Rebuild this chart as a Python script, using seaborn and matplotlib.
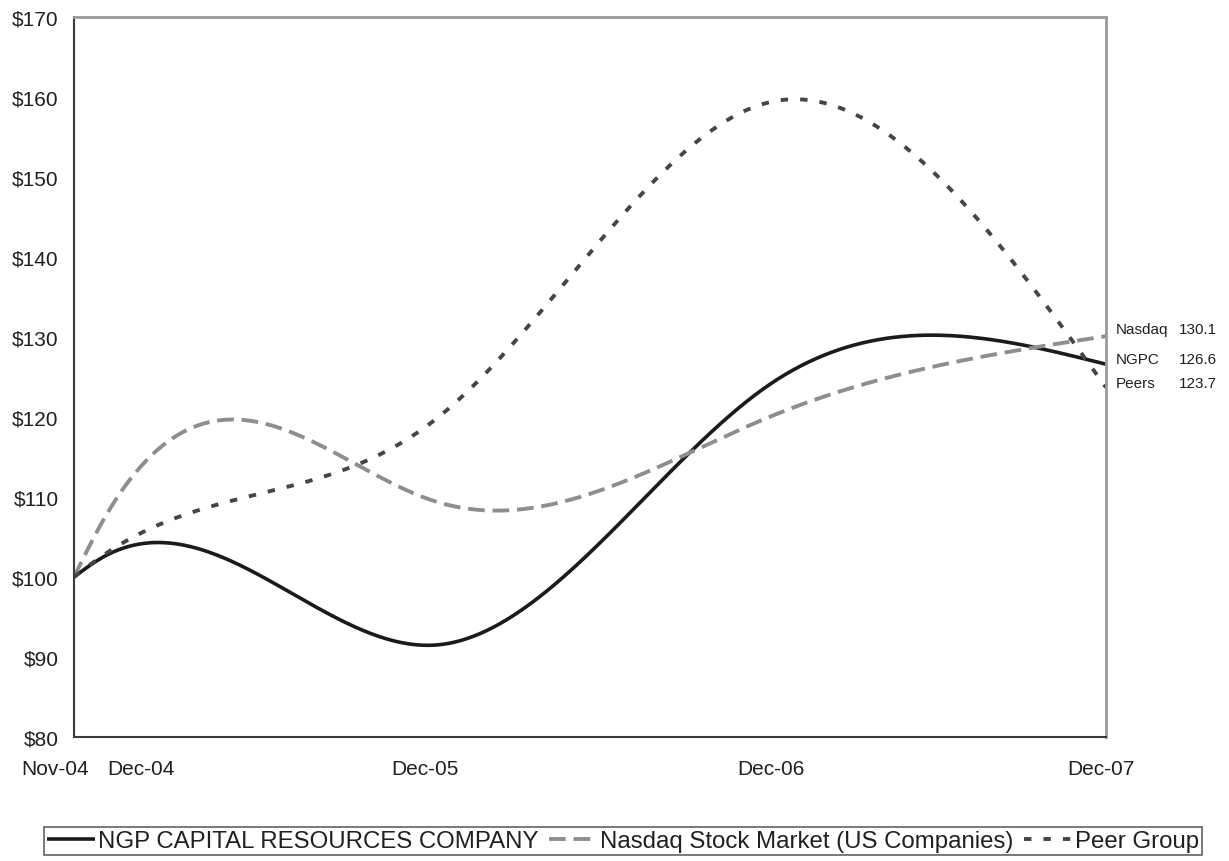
import numpy as np
import pandas as pd
import seaborn as sns
import matplotlib.pyplot as plt
from matplotlib.transforms import ScaledTranslation

# months since Nov-04 for each observation
months = [0, 1, 13, 25, 37]
tick_labels = ['Nov-04', 'Dec-04', 'Dec-05', 'Dec-06', 'Dec-07']

ngpc = [100.0, 102.4, 91.5, 124.2, 126.6]
nasdaq = [100.0, 106.8, 109.4, 120.1, 130.1]
peers = [100.0, 102.6, 119.8, 159.4, 123.7]

series_names = ['NGP CAPITAL RESOURCES COMPANY', 'Nasdaq Stock Market (US Companies)', 'Peer Group']
short_names = ['NGPC', 'Nasdaq', 'Peers']
yticks = [80, 90, 100, 110, 120, 130, 140, 150, 160, 170]


# natural cubic spline, used only to draw the smoothed line through the points
def smooth(x, y, n=400):
    x = np.asarray(x, float)
    y = np.asarray(y, float)
    h = np.diff(x)
    k = len(x)
    A = np.zeros((k, k))
    b = np.zeros(k)
    A[0, 0] = A[-1, -1] = 1
    for i in range(1, k - 1):
        A[i, i - 1] = h[i - 1]
        A[i, i] = 2 * (h[i - 1] + h[i])
        A[i, i + 1] = h[i]
        b[i] = 6 * ((y[i + 1] - y[i]) / h[i] - (y[i] - y[i - 1]) / h[i - 1])
    M = np.linalg.solve(A, b)
    xs = np.linspace(x[0], x[-1], n)
    idx = np.clip(np.searchsorted(x, xs) - 1, 0, k - 2)
    x0, x1, hh = x[idx], x[idx + 1], h[idx]
    ys = (M[idx] * (x1 - xs) ** 3 / (6 * hh) + M[idx + 1] * (xs - x0) ** 3 / (6 * hh)
          + (y[idx] / hh - M[idx] * hh / 6) * (x1 - xs)
          + (y[idx + 1] / hh - M[idx + 1] * hh / 6) * (xs - x0))
    return xs, ys


sns.set_style('white')
plt.rcParams['font.family'] = ['Liberation Sans', 'DejaVu Sans']
text_color = '#231f20'

fig = plt.figure(figsize=(12.29, 8.62), dpi=100)
ax = fig.add_axes([0.0602, 0.1439, 0.8397, 0.8352])

styles = [
    dict(color='#1c1a1b', lw=2.6, ls='-'),
    dict(color='#8e8e90', lw=2.8, ls=(0, (4.3, 2.0))),
    dict(color='#454547', lw=2.8, ls=(0, (1.9, 3.1))),
]

rows = []
for name, vals in zip(series_names, [ngpc, nasdaq, peers]):
    xs, ys = smooth(months, vals)
    rows.append(pd.DataFrame({'month': xs, 'value': ys, 'series': name}))
df = pd.concat(rows, ignore_index=True)

for name, st in zip(series_names, styles):
    sub = df[df['series'] == name]
    sns.lineplot(data=sub, x='month', y='value', ax=ax, label=name,
                 color=st['color'], linewidth=st['lw'], linestyle=st['ls'],
                 solid_capstyle='butt', dash_capstyle='butt')

ax.set_xlim(months[0], months[-1])
ax.set_ylim(80, 170)
ax.set_yticks(yticks)
ax.set_yticklabels([f'${v}' for v in yticks], fontsize=15, color=text_color)
ax.set_xticks(months)
ax.set_xticklabels(tick_labels, fontsize=15, color=text_color)
ax.set_xlabel('')
ax.set_ylabel('')
ax.tick_params(axis='both', length=0)
ax.tick_params(axis='y', pad=11)
ax.tick_params(axis='x', pad=16)

# nudge the crowded labels sideways like the original
shifts = [-0.19, 0.39, -0.12, 0.0, -0.05]
for lab, dx in zip(ax.get_xticklabels(), shifts):
    lab.set_transform(lab.get_transform() + ScaledTranslation(dx, 0, fig.dpi_scale_trans))

for side in ['left', 'bottom']:
    ax.spines[side].set_color('#3a3a3a')
    ax.spines[side].set_linewidth(1.5)
for side in ['top', 'right']:
    ax.spines[side].set_color('#9a9a9a')
    ax.spines[side].set_linewidth(2.0)

# end-value labels on the right
end_vals = [ngpc[-1], nasdaq[-1], peers[-1]]
lifts = [3.5, 5.5, 3.0]
for nm, v, up in zip(short_names, end_vals, lifts):
    ax.annotate(nm, xy=(months[-1], v), xytext=(7, up), textcoords='offset points',
                fontsize=11, color=text_color, va='center', ha='left', annotation_clip=False)
    ax.annotate(f'{v:.1f}', xy=(months[-1], v), xytext=(52.5, up), textcoords='offset points',
                fontsize=11, color=text_color, va='center', ha='left', annotation_clip=False)

ax.get_legend().remove()
handles, labels = ax.get_legend_handles_labels()
leg = fig.legend(handles, labels, loc='center', bbox_to_anchor=(0.507, 0.023), ncol=3,
                 fontsize=17.3, frameon=True, fancybox=False, handlelength=2.0,
                 handletextpad=0.12, columnspacing=0.45, borderpad=0.12, borderaxespad=0)
leg.get_frame().set_edgecolor('#3a3a3a')
leg.get_frame().set_linewidth(1.2)
for t in leg.get_texts():
    t.set_color(text_color)

fig.savefig('out.png', dpi=100)
